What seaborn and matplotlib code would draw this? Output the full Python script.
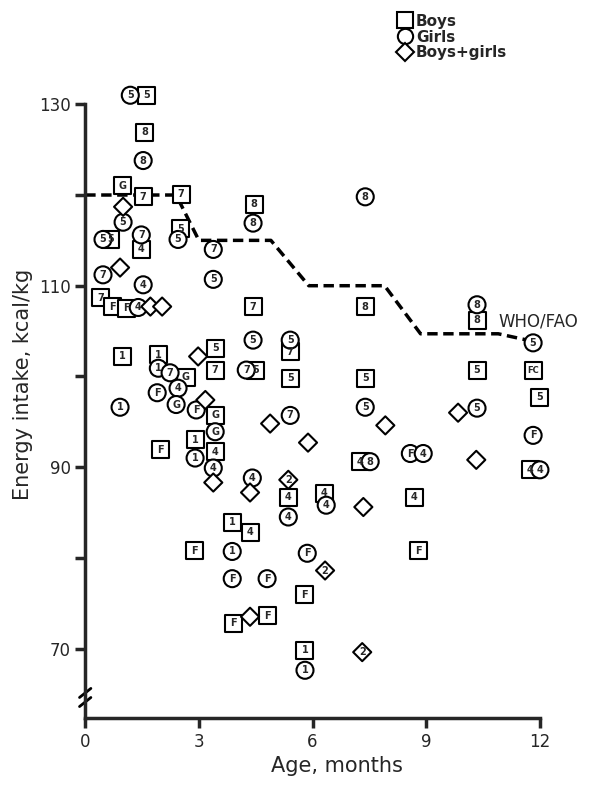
import matplotlib
matplotlib.use("Agg")
import matplotlib.pyplot as plt
import seaborn as sns
import pandas as pd

sns.set_style("ticks")
plt.rcParams['font.family'] = ['DejaVu Sans']

boys_x = [1.61,1.56,0.98,1.53,2.53,2.51,0.66,1.48,0.40,0.71,1.10,0.98,1.93,2.66,3.43,3.43,3.43,2.90,3.43,1.98,4.49,4.43,4.46,7.39,10.34,5.41,5.41,7.39,10.34,11.82,12.0,7.26,11.74,5.36,6.31,8.68,3.88,4.35,2.88,8.79,5.78,3.91,4.80,5.80]
boys_y = [131.0,126.9,121.0,119.8,120.1,116.3,115.1,114.0,108.7,107.7,107.5,102.2,102.4,99.9,103.1,100.7,95.7,93.0,91.7,91.9,100.7,107.7,119.0,107.7,106.2,99.8,102.7,99.8,100.7,100.7,97.7,90.6,89.7,86.7,87.1,86.7,83.9,82.8,80.8,80.8,75.9,72.8,73.6,69.8]
boys_lab = ['5','8','G','7','7','5','5','4','7','F','F','1','1','G','5','7','G','1','4','F','5','7','8','8','8','5','7','5','5','FC','5','4','4','4','4','4','1','4','F','F','F','F','F','1']

girls_x = [1.19,1.53,1.00,1.48,2.45,0.47,3.38,3.38,0.47,1.53,4.43,7.39,10.34,11.82,1.93,2.24,2.45,1.90,2.40,2.93,3.43,2.90,3.38,0.92,4.43,4.25,5.41,5.41,7.39,10.34,11.82,8.58,8.92,7.52,12.0,4.41,5.36,6.36,3.88,5.86,3.88,4.80,5.80,1.40]
girls_y = [131.0,123.8,117.0,115.6,115.1,115.1,114.0,110.7,111.2,110.1,116.9,119.8,107.9,103.7,100.9,100.4,98.7,98.2,96.9,96.3,93.9,91.0,89.9,96.6,104.0,100.7,104.0,95.7,96.6,96.5,93.5,91.5,91.5,90.6,89.7,88.8,84.5,85.8,80.7,80.5,77.7,77.7,67.6,107.6]
girls_lab = ['5','8','5','7','5','5','7','5','7','4','8','8','8','5','1','7','4','F','G','F','G','1','4','1','5','7','5','7','5','5','F','F','4','8','4','4','4','4','1','F','F','F','1','4']

both_x = [1.00,0.92,1.72,2.03,2.98,3.17,3.38,4.35,4.88,5.88,7.92,9.84,10.32,5.36,7.34,6.33,4.35,7.31]
both_y = [118.7,112.0,107.7,107.7,102.2,97.4,88.3,87.2,94.8,92.7,94.6,96.0,90.8,88.6,85.6,78.6,73.5,69.6]
both_lab = ['','','','','','','','','','','','','','2','','2','','2']

who_x = [0,2.4,3.0,4.9,5.9,7.9,8.85,10.9,12.0]
who_y = [120,120,115,115,110,110,104.7,104.7,103.7]

df = pd.concat([
    pd.DataFrame({'x': boys_x, 'y': boys_y, 'lab': boys_lab, 'g': 'Boys'}),
    pd.DataFrame({'x': girls_x, 'y': girls_y, 'lab': girls_lab, 'g': 'Girls'}),
    pd.DataFrame({'x': both_x, 'y': both_y, 'lab': both_lab, 'g': 'Boys+girls'}),
], ignore_index=True)

fig = plt.figure(figsize=(6, 7.92), dpi=100)
ax = fig.add_axes([0.142, 0.093, 0.84, 0.844])
ax.plot(who_x, who_y, color='black', ls=(0, (3, 1.6)), lw=2.5, zorder=1)
sns.scatterplot(data=df, x='x', y='y', style='g', size='g',
                markers={'Boys': 's', 'Girls': 'o', 'Boys+girls': 'D'},
                sizes={'Boys': 150, 'Girls': 150, 'Boys+girls': 85},
                color='white', edgecolor='black', linewidth=1.5,
                legend=False, ax=ax, zorder=2)
for _, r in df.iterrows():
    if r['lab']:
        ax.text(r['x'], r['y'], r['lab'], ha='center', va='center',
                fontsize=7 if len(r['lab']) < 2 else 6, fontweight='bold', zorder=3)
ax.text(10.9, 106.0, 'WHO/FAO', fontsize=12, va='center')

ax.set_xlim(0, 13.3)
ax.set_ylim(62.3, 136)
ax.set_xticks([0, 3, 6, 9, 12])
ax.set_yticks([70, 80, 90, 100, 110, 120, 130])
ax.set_yticklabels(['70', '', '90', '', '110', '', '130'])
ax.spines['top'].set_visible(False)
ax.spines['right'].set_visible(False)
ax.spines['left'].set_bounds(62.3, 130)
ax.spines['bottom'].set_bounds(0, 12)
ax.spines['left'].set_linewidth(2.5)
ax.spines['bottom'].set_linewidth(2.5)
ax.tick_params(width=2.5, length=7, labelsize=12, direction='out')
ax.set_xlabel('Age, months', fontsize=15)
ax.set_ylabel('Energy intake, kcal/kg', fontsize=15)
ax.plot([-0.15, 0.15], [63.6, 64.6], color='black', lw=2, clip_on=False)
ax.plot([-0.15, 0.15], [64.6, 65.6], color='black', lw=2, clip_on=False)

from matplotlib.lines import Line2D
handles = [Line2D([], [], marker=m, ls='', mfc='white', mec='black', mew=1.5, ms=ms)
           for m, ms in [('s', 11), ('o', 11), ('D', 9)]]
fig.legend(handles, ['Boys', 'Girls', 'Boys+girls'], loc='upper left',
           bbox_to_anchor=(0.64, 1.0), frameon=False, fontsize=11,
           prop={'weight': 'bold', 'size': 11},
           handletextpad=0.2, labelspacing=0.05, handlelength=1.0)
fig.savefig('out.png', dpi=100)
